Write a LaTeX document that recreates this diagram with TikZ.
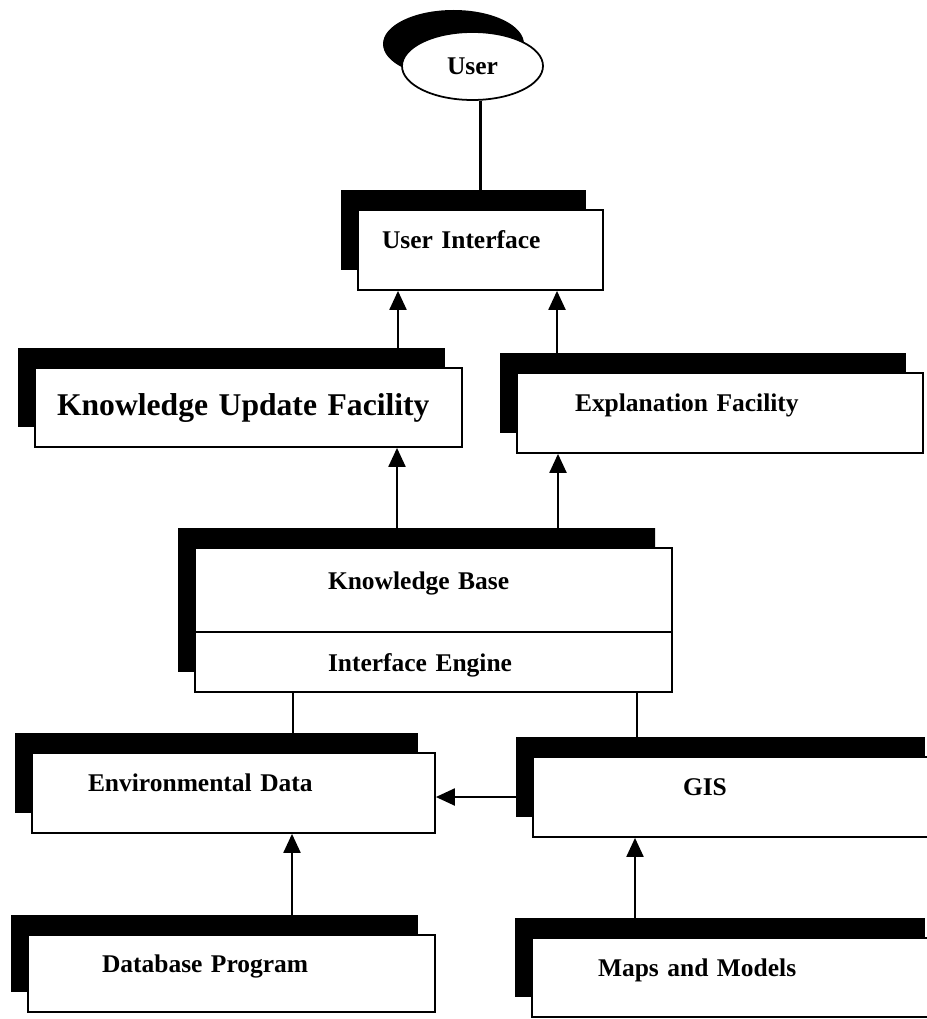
\documentclass[tikz,border=0pt]{standalone}
\usepackage{fontspec}
\setmainfont{Liberation Serif}
\usetikzlibrary{arrows.meta,shapes.geometric,shapes.multipart,shadows,backgrounds}

\begin{document}
\begin{tikzpicture}[
    font=\bfseries\fontsize{14.5}{16}\selectfont,
    shd/.style={drop shadow={shadow xshift=-0.34cm, shadow yshift=0.4cm, fill=black, opacity=1}},
    blk/.style={shd, draw, line width=1pt, fill=white, align=left, text depth=0.4cm},
    arr/.style={-{Triangle[length=0.38cm, width=0.34cm]}, line width=1.2pt},
    ln/.style={line width=1.2pt}
  ]
    \clip (0,0) rectangle (18.54,-20.38);
    \node[draw, ellipse, line width=1pt, fill=white, minimum width=2.82cm, minimum height=1.36cm,
          drop shadow={shadow xshift=-0.38cm, shadow yshift=0.44cm, fill=black, opacity=1}]
          (user) at (9.45,-1.32) {User};
    \node[blk, text width=3.94cm, inner xsep=0.48cm, minimum height=1.6cm] (ui) at (9.61,-5.0) {User Interface};
    \node[blk, font=\bfseries\fontsize{18}{20}\selectfont, text depth=0.1cm, text width=7.66cm, inner xsep=0.44cm,
          minimum height=1.58cm] (kuf) at (4.97,-8.15) {Knowledge Update Facility};
    \node[blk, text width=5.8cm, inner xsep=1.16cm, minimum height=1.6cm] (expl) at (14.4,-8.26) {Explanation Facility};
    \node[shd, draw, line width=1pt, fill=white, rectangle split, rectangle split parts=2,
          align=left, text width=4.22cm, inner xsep=2.66cm, inner ysep=0pt] (kb) at (8.67,-12.4)
          {\rule[-0.83cm]{0pt}{1.64cm}Knowledge Base \nodepart{two}\rule[-0.39cm]{0pt}{1.16cm}Interface Engine};
    \node[blk, text width=5.82cm, inner xsep=1.12cm, minimum height=1.6cm] (ed) at (4.67,-15.86) {Environmental Data};
    \node[blk, text width=2.18cm, inner xsep=3.0cm, minimum height=1.6cm] (gis) at (14.75,-15.94) {GIS};
    \node[blk, text width=5.18cm, inner xsep=1.48cm, minimum height=1.54cm] (dp) at (4.63,-19.47) {Database Program};
    \node[blk, text width=5.56cm, inner xsep=1.32cm, minimum height=1.58cm] (mm) at (14.74,-19.55) {Maps and Models};

    \begin{scope}[on background layer]
      \draw[ln] (ui.north |- user.south) -- (ui.north);
      \draw[arr] ([xshift=2.99cm]kuf.north) -- ([xshift=2.99cm]kuf.north |- ui.south);
      \draw[arr] ([xshift=-3.26cm]expl.north) -- ([xshift=-3.26cm]expl.north |- ui.south);
      \draw[arr] ([xshift=-0.73cm]kb.north) -- ([xshift=-0.73cm]kb.north |- kuf.south);
      \draw[arr] ([xshift=2.49cm]kb.north) -- ([xshift=2.49cm]kb.north |- expl.south);
      \draw[ln] ([xshift=-2.81cm]kb.south) -- ([xshift=-2.81cm]kb.south |- ed.north);
      \draw[ln] ([xshift=4.07cm]kb.south) -- ([xshift=4.07cm]kb.south |- gis.north);
      \draw[arr] (gis.west) -- (gis.west -| ed.east);
      \draw[arr] ([xshift=1.21cm]dp.north) -- ([xshift=1.21cm]dp.north |- ed.south);
      \draw[arr] ([xshift=-2.04cm]mm.north) -- ([xshift=-2.04cm]mm.north |- gis.south);
    \end{scope}
  \end{tikzpicture}
\end{document}
